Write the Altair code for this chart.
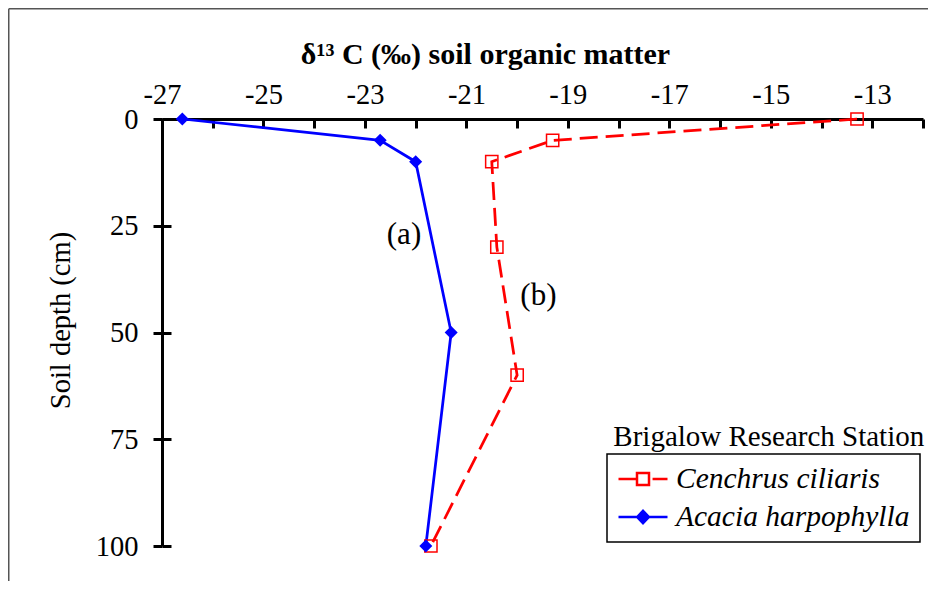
import altair as alt
import pandas as pd

# ---- data ----
species = ["Cenchrus ciliaris", "Acacia harpophylla"]
cc_depth = [0, 5, 10, 30, 60, 100]
cc_d13c = [-13.3, -19.3, -20.5, -20.4, -20.0, -21.7]
ah_depth = [0, 5, 10, 50, 100]
ah_d13c = [-26.6, -22.7, -22.0, -21.3, -21.8]

x_label_ticks = [-27, -25, -23, -21, -19, -17, -15, -13]
x_minor_ticks = list(range(-27, -11))
y_ticks = [0, 25, 50, 75, 100]

note_text = ["(a)", "(b)"]
note_x = [-22.23, -19.58]
note_y = [27.2, 41.5]

legend_title = ["Brigalow Research Station"]
legend_title_x = [-15.04]
legend_title_y = [76.6]

x_title = "δ¹³ C (‰) soil organic matter"
y_title = "Soil depth (cm)"

# ---- styles ----
RED = "#FF0000"
BLUE = "#0000FF"
FONT = "Liberation Serif, Times New Roman, DejaVu Serif, serif"
W, H = 761, 427
PAD = {"left": 154, "top": 111, "right": 5, "bottom": 35}

df = pd.DataFrame({
    "species": [species[0]] * len(cc_depth) + [species[1]] * len(ah_depth),
    "depth": cc_depth + ah_depth,
    "d13c": cc_d13c + ah_d13c,
})
notes = pd.DataFrame({"t": note_text, "x": note_x, "y": note_y})
ltitle = pd.DataFrame({"t": legend_title, "x": legend_title_x, "y": legend_title_y})
one = pd.DataFrame({"a": [0]})

xscale = alt.Scale(domain=[-27, -12], nice=False, zero=False)
yscale = alt.Scale(domain=[0, 100], reverse=True, nice=False, zero=False)

top_axis = alt.Axis(
    orient="top", values=x_label_ticks, labelExpr="'' + datum.value",
    labelFont=FONT, labelFontSize=28.5, labelColor="black", labelPadding=10,
    labelFlush=False, labelOverlap=False,
    ticks=False, tickSize=0, domainColor="black", domainWidth=3, grid=False,
    title=x_title, titleFont=FONT, titleFontSize=30, titleFontWeight="bold",
    titleColor="black", titleX=323, titleY=-56, titleBaseline="alphabetic",
    titleAlign="center", titleAngle=0,
)
left_axis = alt.Axis(
    orient="left", values=y_ticks, labelExpr="'' + datum.value",
    labelFont=FONT, labelFontSize=28.5, labelColor="black", labelPadding=15,
    labelOverlap=False, labelFlush=False,
    ticks=True, tickSize=9, tickWidth=3, tickColor="black",
    domainColor="black", domainWidth=3, grid=False,
    title=y_title, titleFont=FONT, titleFontSize=28.5, titleFontWeight="normal",
    titleColor="black", titleX=-92.5, titleY=201, titleAngle=270,
    titleBaseline="alphabetic", titleAlign="center",
)
inner_x_ticks = alt.Axis(
    orient="bottom", offset=-H, values=x_minor_ticks, labels=False, domain=False,
    ticks=True, tickSize=9, tickWidth=3, tickColor="black", grid=False, title=None,
)
inner_y_ticks = alt.Axis(
    orient="right", offset=-W, values=y_ticks, labels=False, domain=False,
    ticks=True, tickSize=9, tickWidth=3, tickColor="black", grid=False, title=None,
)

def X(axis=None):
    return alt.X("d13c:Q", scale=xscale, axis=axis)

def Y(axis=None):
    return alt.Y("depth:Q", scale=yscale, axis=axis)

base = alt.Chart(df)

line_cc = base.transform_filter(alt.datum.species == species[0]).mark_line(
    color=RED, strokeWidth=2.75, strokeDash=[18, 8]
).encode(x=X(top_axis), y=Y(left_axis), order="depth:Q")

line_ah = base.transform_filter(alt.datum.species == species[1]).mark_line(
    color=BLUE, strokeWidth=2.75
).encode(x=X(), y=Y(), order="depth:Q")

pts_cc = base.transform_filter(alt.datum.species == species[0]).mark_point(
    shape="square", filled=False, color=RED, size=150, strokeWidth=1.5, opacity=1
).encode(x=X(), y=Y())

pts_ah = base.transform_filter(alt.datum.species == species[1]).mark_point(
    shape="diamond", filled=True, color=BLUE, size=170, opacity=1
).encode(x=X(), y=Y())

cc_path = "M-1,0H-0.245M0.39,0H1M-0.245,-0.245H0.245V0.245H-0.245Z"
ah_path = "M-1,0H1M-0.24,0L0,-0.25L0.24,0L0,0.25Z"

leg = alt.Legend(
    title=None, orient="none", legendX=445, legendY=335,
    strokeColor="black", fillColor="white", padding=10,
    symbolSize=2401, clipHeight=30, rowPadding=8, labelOffset=7,
    symbolStrokeWidth=2.5, labelFont=FONT, labelFontSize=29.5,
    labelFontStyle="italic", labelColor="black", labelLimit=400,
)

legend_layer = base.transform_filter("false").mark_point(
    filled=True, opacity=1, strokeWidth=2.5
).encode(
    x=X(inner_x_ticks), y=Y(inner_y_ticks),
    shape=alt.Shape("species:N", scale=alt.Scale(domain=species, range=[cc_path, ah_path]), legend=leg),
    stroke=alt.Stroke("species:N", scale=alt.Scale(domain=species, range=[RED, BLUE]), legend=leg),
    fill=alt.Fill("species:N", scale=alt.Scale(domain=species, range=["transparent", BLUE]), legend=leg),
)

note_layer = alt.Chart(notes).mark_text(
    font=FONT, fontSize=31, color="black", align="center", baseline="middle"
).encode(x=alt.X("x:Q", scale=xscale, axis=None), y=alt.Y("y:Q", scale=yscale, axis=None), text="t:N")

ltitle_layer = alt.Chart(ltitle).mark_text(
    font=FONT, fontSize=29, color="black", align="center", baseline="alphabetic"
).encode(x=alt.X("x:Q", scale=xscale, axis=None), y=alt.Y("y:Q", scale=yscale, axis=None), text="t:N")

border_top = alt.Chart(one).mark_rule(color="#555555", strokeWidth=1.5).encode(
    x=alt.value(-PAD["left"] + 0.75), x2=alt.value(W + PAD["right"]), y=alt.value(-PAD["top"] + 0.75)
)
border_left = alt.Chart(one).mark_rule(color="#555555", strokeWidth=1.5).encode(
    x=alt.value(-PAD["left"] + 0.75), y=alt.value(-PAD["top"] + 0.75), y2=alt.value(H + PAD["bottom"])
)

chart = alt.layer(
    line_cc, line_ah, pts_cc, pts_ah, legend_layer, note_layer, ltitle_layer,
    border_top, border_left,
).resolve_axis(x="independent", y="independent").properties(
    width=W, height=H, padding=PAD,
    autosize=alt.AutoSizeParams(type="none"),
    background="white",
).configure_view(stroke=None).configure_legend(strokeWidth=1.5)

chart.save("out.html", embed_options={"renderer": "svg", "actions": False})
